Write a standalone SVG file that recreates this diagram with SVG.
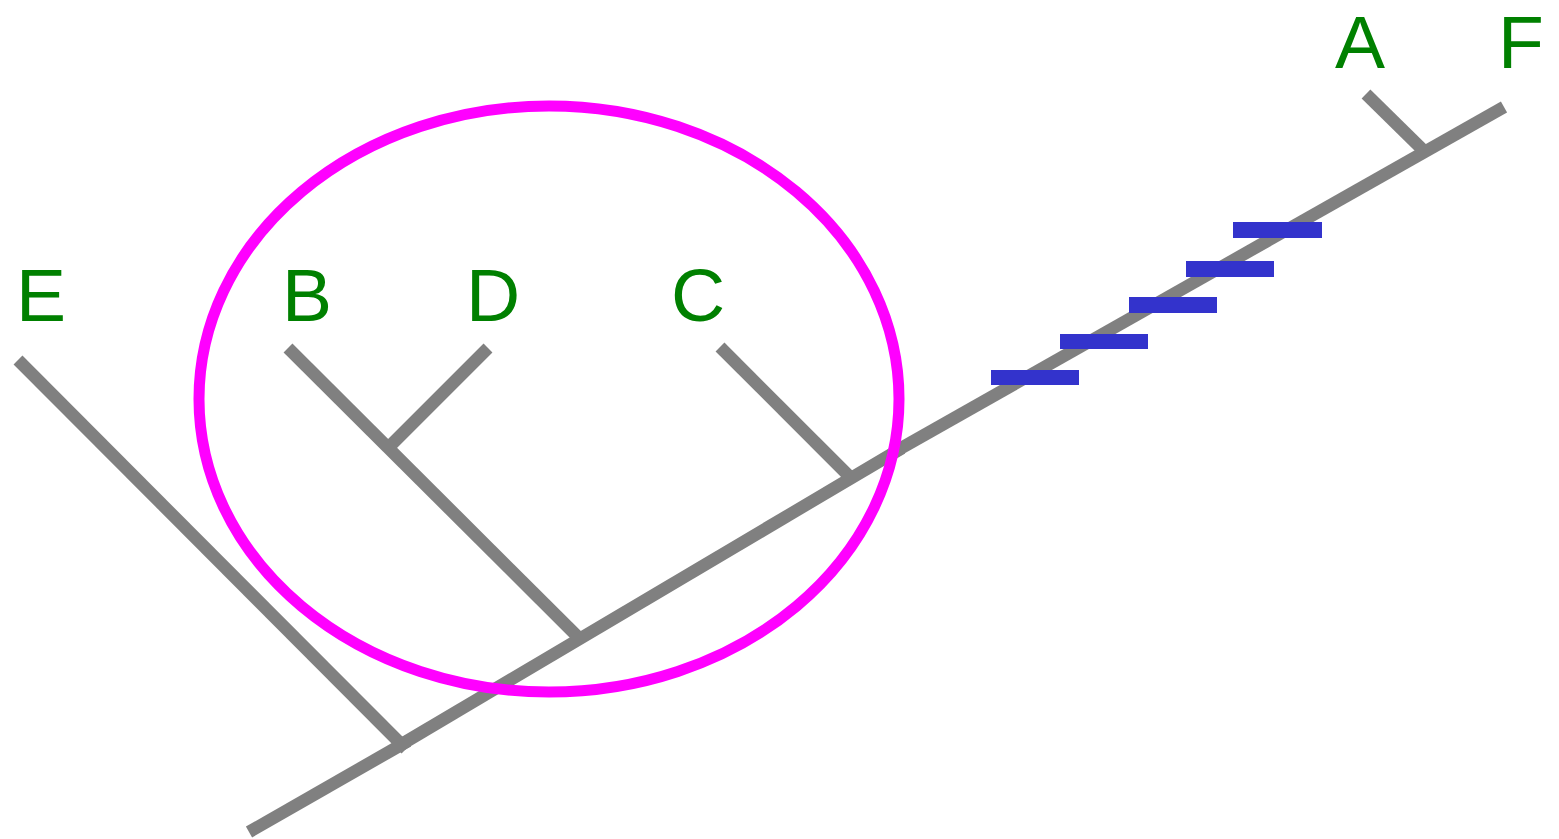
<svg xmlns="http://www.w3.org/2000/svg" width="1559" height="839" viewBox="0 0 1559 839">
<style>
.br{stroke:#808080;stroke-width:12.5;fill:none;stroke-linecap:butt}
.lbl{font-family:"Liberation Sans",Arial,sans-serif;font-size:75px;fill:#008000;text-anchor:middle}
.syn{fill:#3333cc}
.grp{fill:none;stroke:#ff00ff;stroke-width:11}
</style>
<rect width="1559" height="839" fill="#ffffff"/>
<g id="connectors">
<line class="br" x1="249" y1="832" x2="408" y2="741"/>
<line class="br" x1="402" y1="744" x2="902" y2="448"/>
<line class="br" x1="896" y1="451" x2="1504" y2="107"/>
<line class="br" x1="18" y1="360" x2="406" y2="749"/>
<line class="br" x1="288" y1="348" x2="580" y2="639"/>
<line class="br" x1="488" y1="348" x2="391" y2="445"/>
<line class="br" x1="720" y1="347" x2="853" y2="480"/>
<line class="br" x1="1366" y1="94" x2="1425" y2="152"/>
</g>
<g id="synapomorphies">
<rect class="syn" x="991" y="370" width="88" height="15"/>
<rect class="syn" x="1060" y="334" width="88" height="15"/>
<rect class="syn" x="1129" y="297" width="88" height="16"/>
<rect class="syn" x="1186" y="261" width="88" height="16"/>
<rect class="syn" x="1233" y="222" width="89" height="16"/>
</g>
<g id="group-ellipse">
<ellipse class="grp" cx="549" cy="399" rx="350" ry="293"/>
</g>
<g id="node-E"><text class="lbl" x="41" y="321">E</text></g>
<g id="node-B"><text class="lbl" x="307" y="321">B</text></g>
<g id="node-D"><text class="lbl" x="493" y="321">D</text></g>
<g id="node-C"><text class="lbl" x="698" y="321">C</text></g>
<g id="node-A"><text class="lbl" x="1360" y="68">A</text></g>
<g id="node-F"><text class="lbl" x="1521" y="68">F</text></g>
</svg>
